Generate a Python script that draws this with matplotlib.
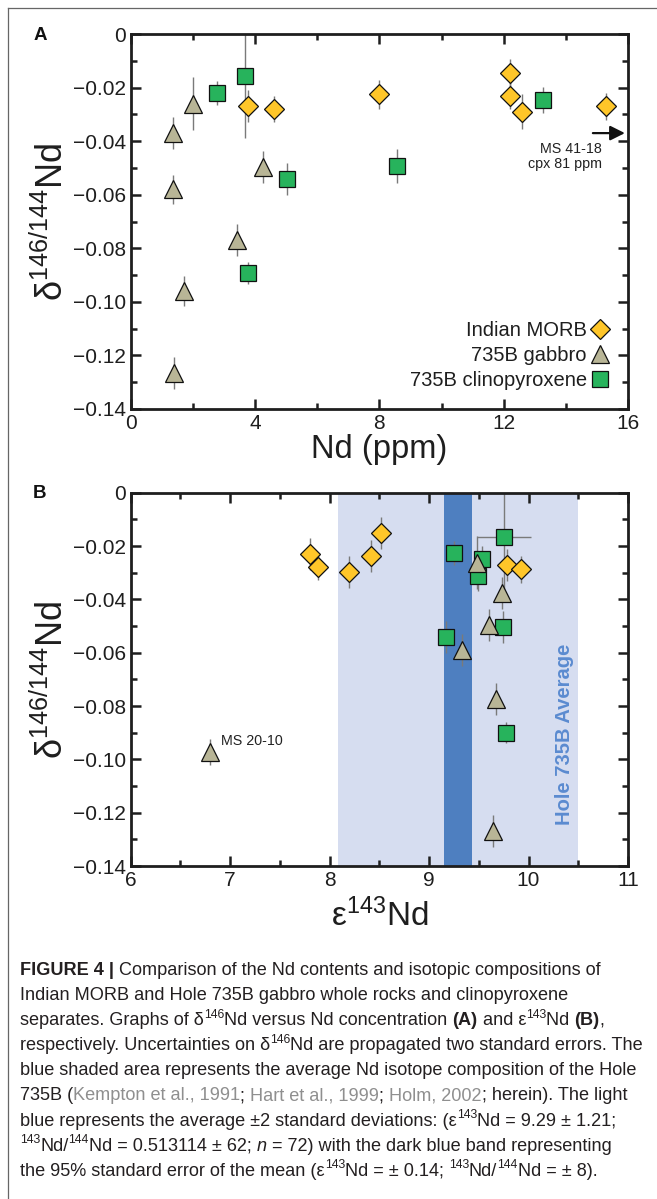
import numpy as np
import matplotlib
matplotlib.use("Agg")
import matplotlib.pyplot as plt
import matplotlib.ticker as ticker
from matplotlib.lines import Line2D
from matplotlib.font_manager import FontProperties

plt.rcParams['font.family'] = ['Liberation Sans', 'DejaVu Sans']
plt.rcParams['mathtext.fontset'] = 'custom'
plt.rcParams['mathtext.rm'] = 'Liberation Sans'
plt.rcParams['mathtext.it'] = 'Liberation Sans:italic'
plt.rcParams['mathtext.bf'] = 'Liberation Sans:bold'

# ---- panel A : d146Nd vs Nd (ppm)
morb_nd = [3.78, 4.62, 8.0, 12.2, 12.2, 12.6, 15.3]
morb_da = [-0.027, -0.028, -0.0225, -0.0145, -0.023, -0.029, -0.027]
morb_ea = [0.006, 0.005, 0.0055, 0.005, 0.005, 0.0065, 0.005]

gab_nd = [1.37, 1.35, 2.0, 4.25, 3.43, 1.70, 1.40]
gab_da = [-0.037, -0.058, -0.026, -0.0495, -0.077, -0.096, -0.1266]
gab_ea = [0.006, 0.0055, 0.010, 0.006, 0.006, 0.0055, 0.006]

cpx_nd = [2.77, 3.69, 5.03, 8.58, 13.26, 3.79]
cpx_da = [-0.0221, -0.0157, -0.0541, -0.0493, -0.0246, -0.0893]
cpx_ea = [0.0045, 0.023, 0.006, 0.0065, 0.005, 0.004]

# ---- panel B : d146Nd vs e143Nd
morb_eps = [7.80, 7.885, 8.19, 8.42, 8.52, 9.78, 9.92]
morb_db = [-0.0231, -0.0278, -0.0296, -0.0236, -0.0152, -0.0271, -0.0287]
morb_eb = [0.006, 0.005, 0.006, 0.006, 0.006, 0.006, 0.005]

gab_eps = [9.48, 9.73, 9.60, 9.33, 9.67, 9.645, 6.80]
gab_db = [-0.0262, -0.0375, -0.0496, -0.059, -0.0774, -0.1268, -0.0973]
gab_eb = [0.010, 0.006, 0.006, 0.006, 0.006, 0.006, 0.005]

cpx_eps = [9.25, 9.755, 9.53, 9.49, 9.175, 9.745, 9.77]
cpx_db = [-0.0225, -0.0165, -0.025, -0.0312, -0.0542, -0.0502, -0.090]
cpx_eb = [0.0045, 0.02, 0.005, 0.0055, 0.006, 0.006, 0.004]
cpx_xeb = [0, 0.27, 0, 0, 0, 0, 0]

# Hole 735B average (caption values)
hole_mean = 9.29
hole_2sd = 1.21
hole_se = 0.14

labels = ["Indian MORB", "735B gabbro", "735B clinopyroxene"]
yticks = [0, -0.02, -0.04, -0.06, -0.08, -0.10, -0.12, -0.14]

c_morb = '#FFC629'
c_gab = '#B8B596'
c_cpx = '#27B35C'
c_err = '#7a7a7a'
ink = '#1e1e1e'

W, H = 657, 1199
fig = plt.figure(figsize=(W / 100, H / 100), dpi=100)

def px_axes(x0, y0, x1, y1):
    return fig.add_axes([x0 / W, 1 - y1 / H, (x1 - x0) / W, (y1 - y0) / H])

axA = px_axes(130.7, 34, 628, 409)
axB = px_axes(130.7, 492.7, 628, 866)

def yfmt(v, _):
    if abs(v) < 1e-9:
        return "0"
    return f"{v:.2f}".replace("-", "\u2212")

def style_axis(ax):
    for s in ax.spines.values():
        s.set_linewidth(2.0)
        s.set_color(ink)
    ax.tick_params(which='both', direction='in', top=True, right=True,
                   width=1.8, color=ink, labelsize=15, labelcolor=ink)
    ax.tick_params(which='major', length=7.5, pad=3.5)
    ax.tick_params(which='minor', length=4.5)
    ax.set_ylim(-0.14, 0)
    ax.set_yticks(yticks)
    ax.yaxis.set_minor_locator(ticker.MultipleLocator(0.01))
    ax.yaxis.set_major_formatter(ticker.FuncFormatter(yfmt))
    ax.set_ylabel(r"δ$^{146/144}$Nd", fontsize=26, color=ink)
    ax.yaxis.label.set_rotation_mode('anchor')
    ax.yaxis.label.set_va('baseline')
    ax.yaxis.set_label_coords(-0.137, 0.5)

def draw_points(ax, x, y, e, marker, ms, color, xe=None, z=3):
    ax.errorbar(x, y, yerr=e, xerr=xe, fmt='none', ecolor=c_err, elinewidth=1.0, zorder=2)
    ax.plot(x, y, linestyle='none', marker=marker, ms=ms, mfc=color, mec='#111111',
            mew=0.9, zorder=z)

# ---------------- panel A
style_axis(axA)
axA.set_xlim(0, 16)
axA.xaxis.set_major_locator(ticker.MultipleLocator(4))
axA.xaxis.set_minor_locator(ticker.MultipleLocator(2))
axA.set_xlabel("Nd (ppm)", fontsize=23.5, color=ink)
axA.xaxis.label.set_va('baseline')
axA.xaxis.set_label_coords(0.5, -0.13)

draw_points(axA, cpx_nd, cpx_da, cpx_ea, 's', 12, c_cpx, z=3)
draw_points(axA, gab_nd, gab_da, gab_ea, '^', 13.5, c_gab, z=4)
draw_points(axA, morb_nd, morb_da, morb_ea, 'D', 9.7, c_morb, z=5)

axA.annotate('', xy=(15.9, -0.037), xytext=(14.87, -0.037),
             arrowprops=dict(arrowstyle='-|>', mutation_scale=22, lw=1.6, color='#111111',
                             shrinkA=0, shrinkB=0))
axA.text(15.17, -0.0457, "MS 41-18\ncpx 81 ppm", ha='right', va='center', fontsize=10.3,
         color='#222222', linespacing=1.15)

handles = [Line2D([], [], ls='none', marker='D', ms=9.7, mfc=c_morb, mec='#111111', mew=0.9),
           Line2D([], [], ls='none', marker='^', ms=13.5, mfc=c_gab, mec='#111111', mew=0.9),
           Line2D([], [], ls='none', marker='s', ms=12, mfc=c_cpx, mec='#111111', mew=0.9)]
leg = axA.legend(handles, labels, loc='lower right', bbox_to_anchor=(0.964, 0.05),
                 frameon=False, markerfirst=False, fontsize=14.5, handlelength=1.0,
                 handletextpad=0.15, labelspacing=0.3, borderpad=0, borderaxespad=0)
for t in leg.get_texts():
    t.set_color(ink)

# ---------------- panel B
style_axis(axB)
axB.set_xlim(6, 11)
axB.xaxis.set_major_locator(ticker.MultipleLocator(1))
axB.xaxis.set_minor_locator(ticker.MultipleLocator(0.5))
axB.set_xlabel(r"ε$^{143}$Nd", fontsize=24, color=ink)
axB.xaxis.label.set_va('baseline')
axB.xaxis.set_label_coords(0.5, -0.16)

axB.axvspan(hole_mean - hole_2sd, hole_mean + hole_2sd, color='#D6DDF0', lw=0, zorder=0)
axB.axvspan(hole_mean - hole_se, hole_mean + hole_se, color='#4E7FC0', lw=0, zorder=1)
axB.text(10.36, -0.0906, "Hole 735B Average", rotation=90, ha='center', va='center',
         fontsize=14.5, fontweight='bold', color='#5B8BD0', zorder=1.5)

draw_points(axB, cpx_eps, cpx_db, cpx_eb, 's', 12, c_cpx, xe=cpx_xeb, z=3)
draw_points(axB, gab_eps, gab_db, gab_eb, '^', 13.5, c_gab, z=4)
draw_points(axB, morb_eps, morb_db, morb_eb, 'D', 9.7, c_morb, z=5)
axB.annotate("MS 20-10", xy=(gab_eps[-1], gab_db[-1]), xytext=(8, 8),
             textcoords='offset points', ha='left', va='center', fontsize=10.3, color='#222222')

# panel letters
fig.text(40 / W, 1 - 36 / H, "A", fontsize=13.5, fontweight='bold', ha='center', va='center', color='#111111')
fig.text(40 / W, 1 - 494 / H, "B", fontsize=13.5, fontweight='bold', ha='center', va='center', color='#111111')

# frame (top and left edges visible)
fig.add_artist(Line2D([8 / W, 1], [1 - 8 / H, 1 - 8 / H], transform=fig.transFigure, color='#666666', lw=0.9))
fig.add_artist(Line2D([8 / W, 8 / W], [0, 1 - 8 / H], transform=fig.transFigure, color='#666666', lw=0.9))

# ---------------- caption
cap_lines = [
    [("FIGURE 4 | ", 'b'), ("Comparison of the Nd contents and isotopic compositions of", 'n')],
    [("Indian MORB and Hole 735B gabbro whole rocks and clinopyroxene", 'n')],
    [("separates. Graphs of δ", 'n'), ("146", 's'), ("Nd versus Nd concentration ", 'n'), ("(A)", 'b'),
     (" and ε", 'n'), ("143", 's'), ("Nd ", 'n'), ("(B)", 'b'), (",", 'n')],
    [("respectively. Uncertainties on δ", 'n'), ("146", 's'), ("Nd are propagated two standard errors. The", 'n')],
    [("blue shaded area represents the average Nd isotope composition of the Hole", 'n')],
    [("735B (", 'n'), ("Kempton et al., 1991", 'g'), ("; ", 'n'), ("Hart et al., 1999", 'g'), ("; ", 'n'),
     ("Holm, 2002", 'g'), ("; herein). The light", 'n')],
    [("blue represents the average ±2 standard deviations: (ε", 'n'), ("143", 's'), ("Nd = 9.29 ± 1.21;", 'n')],
    [("143", 's'), ("Nd/", 'n'), ("144", 's'), ("Nd = 0.513114 ± 62; ", 'n'), ("n", 'i'),
     (" = 72) with the dark blue band representing", 'n')],
    [("the 95% standard error of the mean (ε", 'n'), ("143", 's'), ("Nd = ± 0.14; ", 'n'), ("143", 's'),
     ("Nd/", 'n'), ("144", 's'), ("Nd = ± 8).", 'n')],
]

renderer = fig.canvas.get_renderer()

def seg_props(kind, size):
    if kind == 'b':
        return FontProperties(family='Liberation Sans', weight='bold', size=size), '#231f20', 0
    if kind == 'i':
        return FontProperties(family='Liberation Sans', style='italic', size=size), '#231f20', 0
    if kind == 'g':
        return FontProperties(family='Liberation Sans', size=size), '#8f8f8f', 0
    if kind == 's':
        return FontProperties(family='Liberation Sans', size=size * 0.68), '#231f20', size * 0.42
    return FontProperties(family='Liberation Sans', size=size), '#231f20', 0

def seg_width(s, fp):
    w1 = renderer.get_text_width_height_descent("|" + s + "|", fp, ismath=False)[0]
    w0 = renderer.get_text_width_height_descent("||", fp, ismath=False)[0]
    return w1 - w0

def line_width(line, size):
    return sum(seg_width(s, seg_props(k, size)[0]) for s, k in line)

# fit caption size to the widest line of the reference (~626 px)
cap_size = 10.0 * 626 / line_width(cap_lines[3], 10.0)

for i, line in enumerate(cap_lines):
    x = 20.0
    y = 975 + 25.1 * i
    for s, k in line:
        fp, col, rise = seg_props(k, cap_size)
        fig.text(x / W, 1 - (y - rise * 100 / 72) / H, s, fontproperties=fp, color=col,
                 ha='left', va='baseline')
        x += seg_width(s, fp)

fig.savefig("out.png", dpi=100)
